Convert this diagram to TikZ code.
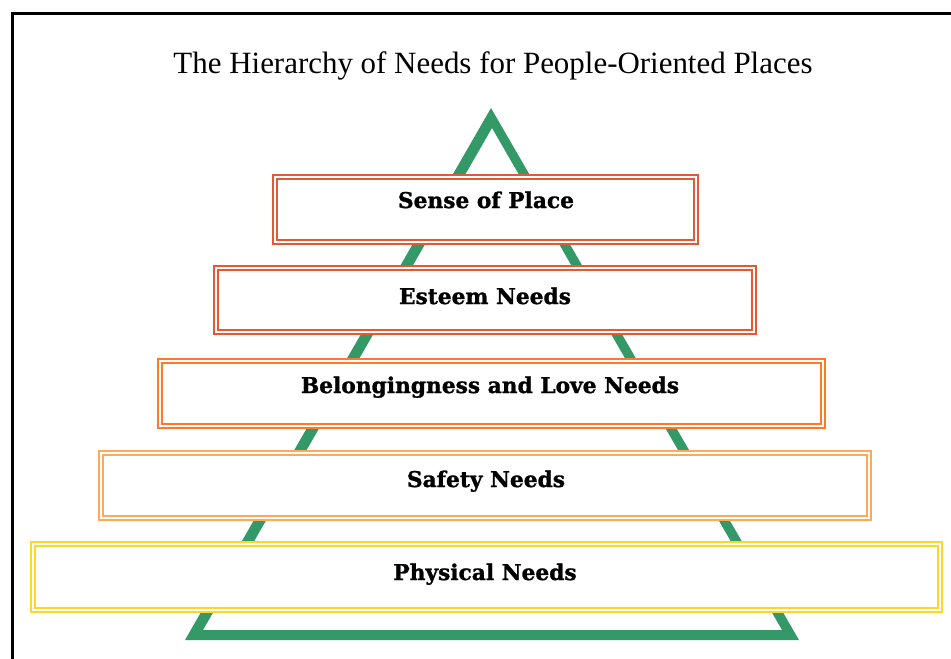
\documentclass[tikz,border=0pt]{standalone}
\usepackage{fontspec}
\setmainfont{Liberation Serif}
\newfontfamily\labelfont[BoldFeatures={FakeBold=1.2}]{DejaVu Serif}
\definecolor{pyrgreen}{RGB}{51,153,102}
\definecolor{tierA}{RGB}{222,92,52}
\definecolor{tierB}{RGB}{232,88,40}
\definecolor{tierC}{RGB}{255,122,38}
\definecolor{tierD}{RGB}{255,168,90}
\definecolor{tierE}{RGB}{255,214,40}
\begin{document}
\begin{tikzpicture}[x=0.75pt,y=-0.75pt,
  frame/.style={draw=black,line width=2pt},
  tier/.style={draw=#1,double=white,double distance=1.9pt,line width=1.1pt,fill=white,inner sep=0pt},
  lbl/.style={font=\labelfont\bfseries\fontsize{16.3}{19}\selectfont,anchor=base,inner sep=0pt},
  ttl/.style={font=\fontsize{23.2}{28}\selectfont,anchor=base,inner sep=0pt}]
\useasboundingbox (0,0) rectangle (951,658);
\clip (0,0) rectangle (951,658);
% outer frame, running off the right and bottom edges
\draw[frame] (12.7,700) -- (12.7,13.3) -- (1000,13.3);
% title
\node[ttl] (title) at (493,73) {The Hierarchy of Needs for People-Oriented Places};
% green pyramid outline
\fill[pyrgreen,even odd rule] (185,640) -- (799,640) -- (491,108) -- cycle
  (203,630) -- (782,630) -- (492,128) -- cycle;
% tiers, top to bottom
\node[tier=tierA,minimum width=0.75*421pt,minimum height=0.75*65pt] (b1) at (485.5,209.5) {};
\node[tier=tierB,minimum width=0.75*538pt,minimum height=0.75*64pt] (b2) at (485,300) {};
\node[tier=tierC,minimum width=0.75*663pt,minimum height=0.75*65pt] (b3) at (491.5,393.5) {};
\node[tier=tierD,minimum width=0.75*768pt,minimum height=0.75*65pt] (b4) at (485,485.5) {};
\node[tier=tierE,minimum width=0.75*907pt,minimum height=0.75*66pt] (b5) at (486.5,577) {};
% tier labels
\node[lbl] (t1) at (486,208) {Sense of Place};
\node[lbl] (t2) at (485,304) {Esteem Needs};
\node[lbl] (t3) at (490,393) {Belongingness and Love Needs};
\node[lbl] (t4) at (486,487) {Safety Needs};
\node[lbl] (t5) at (485,580) {Physical Needs};
\end{tikzpicture}
\end{document}
